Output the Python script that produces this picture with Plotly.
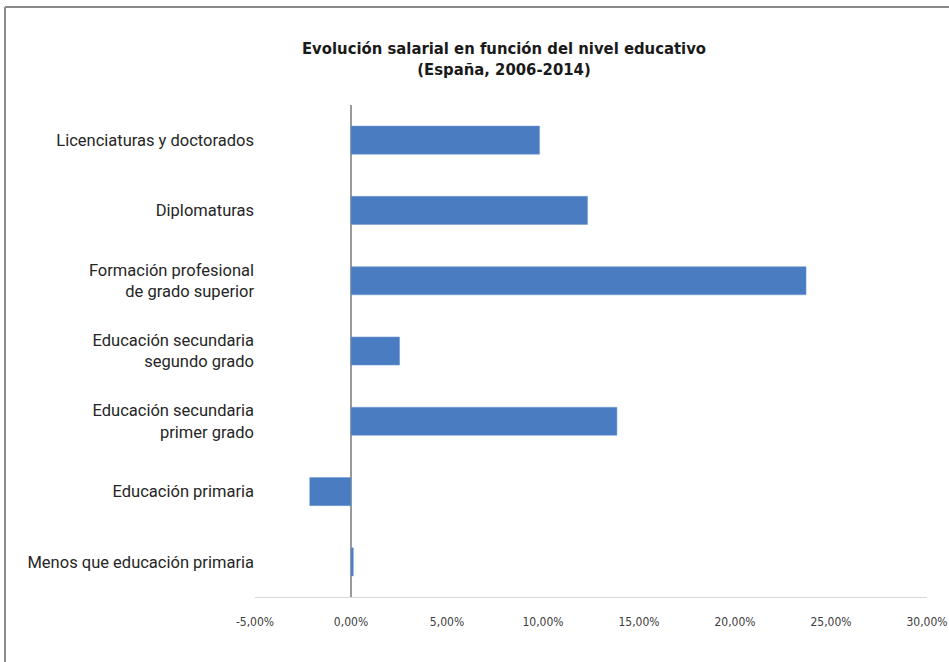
import plotly.graph_objects as go

categories = [
    "Licenciaturas y doctorados",
    "Diplomaturas",
    "Formación profesional<br>de grado superior",
    "Educación secundaria<br>segundo grado",
    "Educación secundaria<br>primer grado",
    "Educación primaria",
    "Menos que educación primaria",
]
values = [9.82, 12.32, 23.7, 2.53, 13.85, -2.15, 0.12]
tick_vals = [-5, 0, 5, 10, 15, 20, 25, 30]
tick_text = ["-5,00%", "0,00%", "5,00%", "10,00%", "15,00%", "20,00%", "25,00%", "30,00%"]

title_text = "<b>Evolución salarial en función del nivel educativo<br>(España, 2006-2014)</b>"

fig = go.Figure(
    go.Bar(
        x=values,
        y=categories,
        orientation="h",
        width=0.4,
        marker=dict(color="#4a7cc2", line=dict(color="#6f97d3", width=0.5)),
    )
)

W, H = 949, 662
L, R, T, B = 255, 22, 105, 65
pw, ph = W - L - R, H - T - B

fig.update_layout(
    width=W,
    height=H,
    margin=dict(l=L, r=R, t=T, b=B, autoexpand=False),
    paper_bgcolor="white",
    plot_bgcolor="white",
    showlegend=False,
    title=dict(
        text=title_text,
        font=dict(family="DejaVu Sans Condensed, sans-serif", size=16.5, color="#1a1a1a"),
        x=504 / W,
        xanchor="center",
        y=1 - 54 / H,
        yanchor="top",
    ),
    xaxis=dict(
        range=[-5, 30],
        tickvals=tick_vals,
        ticktext=tick_text,
        showgrid=False,
        zeroline=True,
        zerolinecolor="#9a9a9a",
        zerolinewidth=1.5,
        showline=True,
        linecolor="#d9d9d9",
        linewidth=1,
        ticks="outside",
        ticklen=14,
        tickcolor="rgba(0,0,0,0)",
        tickfont=dict(family="DejaVu Sans Condensed, sans-serif", size=12, color="#404040"),
        fixedrange=True,
        automargin=False,
    ),
    yaxis=dict(
        autorange="reversed",
        showgrid=False,
        showline=False,
        ticks="",
        tickfont=dict(family="Roboto, sans-serif", size=16.5, color="#262626"),
        automargin=False,
    ),
)

# frame border (decorative)
x_left = (5 - L) / pw
x_right = (W - L) / pw
y_top = (H - B - 7) / ph
y_bottom = (H - B - H) / ph
fig.add_shape(type="line", xref="paper", yref="paper", x0=x_left, x1=x_right, y0=y_top, y1=y_top,
              line=dict(color="#8a8a8a", width=2))
fig.add_shape(type="line", xref="paper", yref="paper", x0=x_left, x1=x_left, y0=y_top, y1=y_bottom,
              line=dict(color="#8a8a8a", width=2))

fig.write_html("out.html")
